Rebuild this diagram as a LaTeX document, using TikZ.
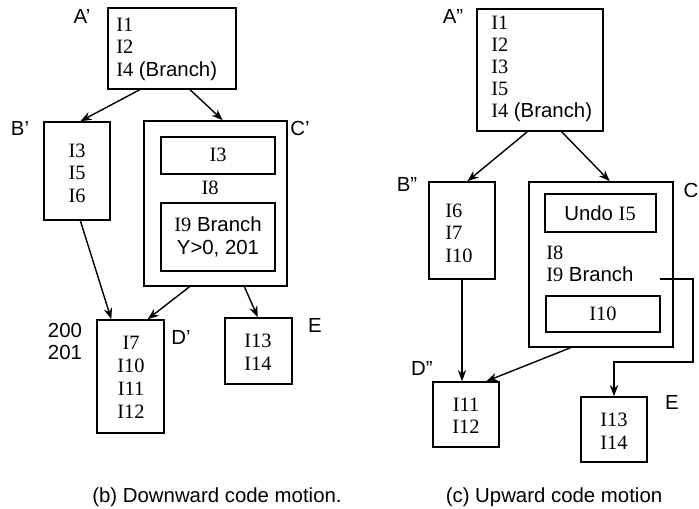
\documentclass[tikz,border=0pt]{standalone}
\usepackage{fontspec}
\setmainfont{Liberation Serif}
\setsansfont{Liberation Sans}
\usetikzlibrary{arrows.meta,calc,fit}
\newcommand{\ins}[1]{{\rmfamily I#1}}
\tikzset{
  blk/.style={draw, line width=1.1pt, inner sep=0pt},
  txt/.style={inner sep=0pt, align=center},
  lft/.style={inner sep=0pt, align=left, anchor=west},
  lbl/.style={inner sep=0pt},
  arr/.style={line width=1pt, -{Stealth[length=8pt,width=6pt]}},
}
\begin{document}
\begin{tikzpicture}[x=0.025cm, y=-0.025cm, font=\sffamily\fontsize{14.5}{16}\selectfont]
\useasboundingbox (0,0) rectangle (699,508);
% (b) downward code motion
\node[blk, fit={(108,8) (236,89)}] (A1) {};
\node[blk, fit={(44,122) (110,220)}] (B1) {};
\node[blk, fit={(144,121) (287,286)}] (C1) {};
\node[blk, fit={(161,137) (275,174)}] (C1a) {};
\node[blk, fit={(161,203) (275,271)}] (C1b) {};
\node[blk, fit={(97,320) (164,433)}] (D1) {};
\node[blk, fit={(225,318) (292,384)}] (E1) {};
\node[lft] (tA1) at (116,49) {\ins1\\\ins2\\\ins4 (Branch)};
\node[txt] (tB1) at (77,173) {\ins3\\\ins5\\\ins6};
\node[txt] (tC1a) at (218,155) {\ins3};
\node[txt] (tC1) at (210,188) {\ins8};
\node[txt] (tC1b) at (218,237) {\ins9 Branch\\Y>0, 201};
\node[txt, font=\sffamily\fontsize{14.5}{16.4}\selectfont] (tD1) at (131,377) {\ins7\\\ins{10}\\\ins{11}\\\ins{12}};
\node[txt] (tE1) at (258,352) {\ins{13}\\\ins{14}};
\node[lbl] (n200) at (65,330) {200};
\node[lbl] (n201) at (65,352) {201};
\node[lbl] (lA1) at (82,16) {A'};
\node[lbl] (lB1) at (20,128) {B'};
\node[lbl] (lC1) at (300,128) {C'};
\node[lbl] (lD1) at (181,337) {D'};
\node[lbl] (lE1) at (315,325) {E};
\draw[arr] ($(A1.south west)!0.25!(A1.south east)$) -- ($(B1.north west)!0.55!(B1.north east)$);
\draw[arr] ($(A1.south west)!0.64!(A1.south east)$) -- ($(C1.north west)!0.55!(C1.north east)$);
\draw[arr] ($(B1.south west)!0.55!(B1.south east)$) -- ($(D1.north west)!0.22!(D1.north east)$);
\draw[arr] ($(C1.south west)!0.32!(C1.south east)$) -- ($(D1.north west)!0.75!(D1.north east)$);
\draw[arr] ($(C1.south west)!0.70!(C1.south east)$) -- ($(E1.north west)!0.49!(E1.north east)$);
\node[lbl] (cap1) at (217,497) {(b) Downward code motion.};
% (c) upward code motion
\node[blk, fit={(477,9) (603,131)}] (A2) {};
\node[blk, fit={(429,182) (495,279)}] (B2) {};
\node[blk, fit={(529,182) (673,347)}] (C2) {};
\node[blk, fit={(545,194) (656,232)}] (C2a) {};
\node[blk, fit={(546,296) (660,332)}] (C2b) {};
\node[blk, fit={(433,382) (499,447)}] (D2) {};
\node[blk, fit={(581,397) (647,462)}] (E2) {};
\node[lft, font=\sffamily\fontsize{14.5}{15.6}\selectfont] (tA2) at (491,69) {\ins1\\\ins2\\\ins3\\\ins5\\\ins4 (Branch)};
\node[lft] (tB2) at (445,233) {\ins6\\\ins7\\\ins{10}};
\node[txt] (tC2a) at (600,213) {Undo \ins5};
\node[lft] (tC2) at (546,264) {\ins8\\\ins9 Branch};
\node[txt] (tC2b) at (603,314) {\ins{10}};
\node[txt] (tD2) at (466,416) {\ins{11}\\\ins{12}};
\node[txt] (tE2) at (614,431) {\ins{13}\\\ins{14}};
\node[lbl] (lA2) at (453,16) {A''};
\node[lbl] (lB2) at (407,184) {B''};
\node[lbl] (lC2) at (691,190) {C};
\node[lbl] (lD2) at (422,368) {D''};
\node[lbl] (lE2) at (672,402) {E};
\coordinate (brout) at (660,279);
\coordinate (brdown) at (693,362);
\draw[arr] ($(A2.south west)!0.40!(A2.south east)$) -- ($(B2.north west)!0.58!(B2.north east)$);
\draw[arr] ($(A2.south west)!0.67!(A2.south east)$) -- ($(C2.north west)!0.56!(C2.north east)$);
\draw[arr] (B2.south) -- (B2.south |- D2.north);
\draw[arr] ($(C2.south west)!0.29!(C2.south east)$) -- ($(D2.north west)!0.80!(D2.north east)$);
\draw[arr] (brout) -| (brdown) -| (E2.north);
\node[lbl] (cap2) at (554,497) {(c) Upward code motion};
\end{tikzpicture}
\end{document}
